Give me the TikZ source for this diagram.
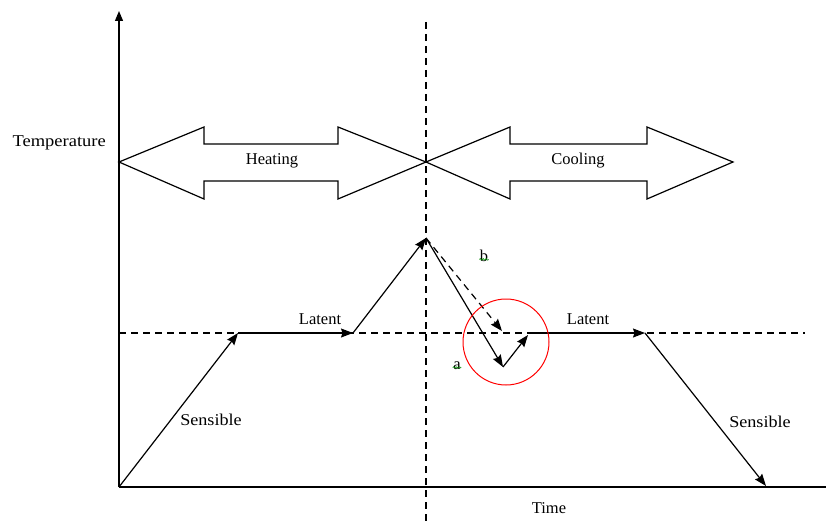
\documentclass[tikz,border=0pt]{standalone}
\usepackage{fontspec}
\setmainfont{Liberation Serif}
\usetikzlibrary{arrows.meta,decorations.pathmorphing}
\begin{document}
\begin{tikzpicture}[x=1pt,y=-1pt,line width=1.2pt,
  arr/.style={-{Stealth[length=12pt,width=9pt,inset=1.5pt]}},
  dashline/.style={dash pattern=on 7pt off 5pt},
  lbl/.style={font=\fontsize{16.5}{18}\selectfont,inner sep=0pt},
  bigarrow/.style={draw,line width=1.2pt,line join=miter},
  squig/.style={draw=green!55!black,line width=0.6pt,decorate,decoration={snake,amplitude=0.8pt,segment length=3pt}}]
\useasboundingbox (0,0) rectangle (827,524);
% points
\coordinate (O) at (119,487);
\coordinate (Ytop) at (119,11);
\coordinate (Xend) at (826,487);
\coordinate (Vtop) at (426,22);
\coordinate (Vbot) at (426,522);
\coordinate (Hl) at (119,333);
\coordinate (Hr) at (805,333);
\coordinate (A1) at (238,333);
\coordinate (A2) at (353,333);
\coordinate (P) at (426,238);
\coordinate (D) at (503,367);
\coordinate (Db) at (502,331);
\coordinate (E) at (528,335);
\coordinate (E0) at (527,333);
\coordinate (F) at (645,333);
\coordinate (G) at (766,486);
% axes
\draw[-{Triangle[length=10pt,width=8pt]}] (O) -- (Ytop);
\draw (O) -- (Xend);
% dashed guides
\draw[dashline] (Vtop) -- (Vbot);
\draw[dashline] (Hl) -- (Hr);
% fat double arrows
\draw[bigarrow] (119,162) -- (204,127) -- (204,144) -- (338,144) -- (338,127) -- (426,162)
  -- (338,199) -- (338,181) -- (204,181) -- (204,199) -- cycle;
\draw[bigarrow] (426,162) -- (510,127) -- (510,144) -- (647,144) -- (647,127) -- (733,162)
  -- (647,199) -- (647,181) -- (510,181) -- (510,199) -- cycle;
\node[lbl] (heat) at (272,161) {Heating};
\node[lbl] (cool) at (578,161) {Cooling};
% process path
\draw[arr] (O) -- (A1);
\draw[arr] (A1) -- (A2);
\draw[arr] (A2) -- (P);
\draw[arr] (P) -- (D);
\draw[arr,dashline] (P) -- (Db);
\draw[arr] (D) -- (E);
\draw[arr] (E0) -- (F);
\draw[arr] (F) -- (G);
% red circle
\draw[red,line width=1pt] (506,342) circle (43);
% labels
\node[lbl,anchor=west] (temp) at (12,143) {\scalebox{1.12}[1]{Temperature}};
\node[lbl] (lat1) at (320,319) {Latent};
\node[lbl] (lat2) at (588,319) {Latent};
\node[lbl] (sen1) at (211,420) {\scalebox{1.1}[1]{Sensible}};
\node[lbl] (sen2) at (760,422) {\scalebox{1.1}[1]{Sensible}};
\node[lbl] (time) at (549,508) {Time};
\node[lbl] (b) at (484,256) {b};
\node[lbl] (a) at (457,366) {a};
\draw[squig] ([yshift=3pt]b.south west) -- ([yshift=3pt]b.south east);
\draw[squig] ([yshift=3pt]a.south west) -- ([yshift=3pt]a.south east);
\end{tikzpicture}
\end{document}
